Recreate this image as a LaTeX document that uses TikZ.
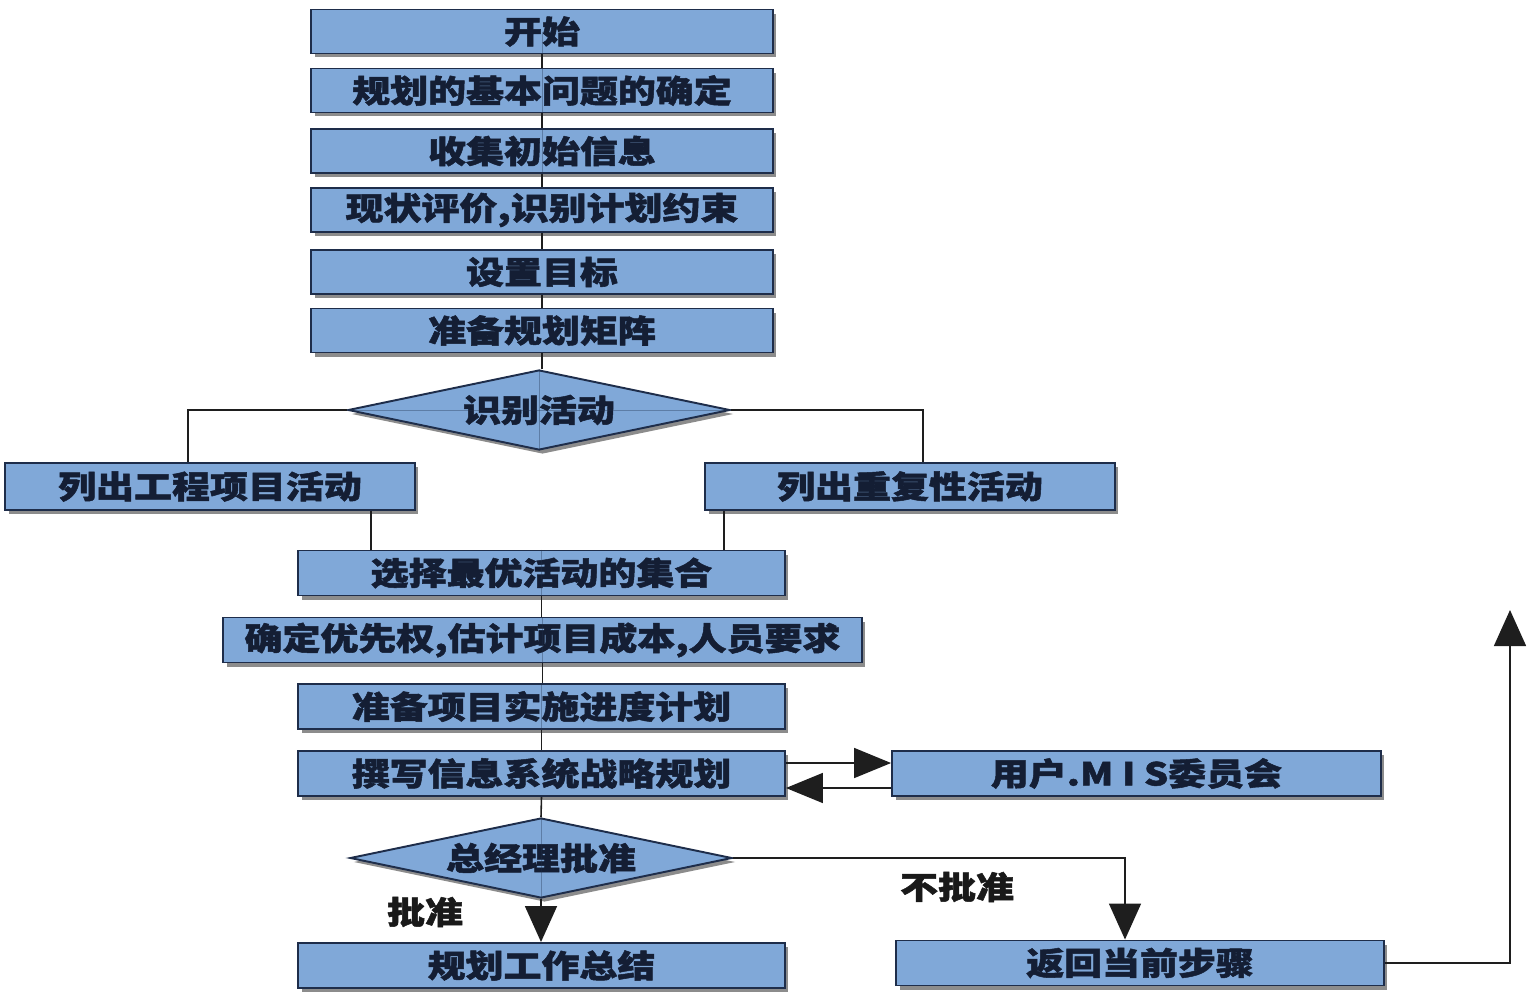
\documentclass[tikz,border=0pt]{standalone}
\usepackage{fontspec}
\newfontfamily\cjk{Noto Sans CJK SC}[FakeStretch=1.2, BoldFeatures={FakeBold=1.6}]
\usetikzlibrary{shapes.geometric,arrows.meta,shadows}
\definecolor{boxfill}{RGB}{128,168,216}
\definecolor{boxline}{RGB}{30,45,74}
\definecolor{txt}{RGB}{20,30,52}
\definecolor{conn}{RGB}{30,30,30}
\begin{document}
\begin{tikzpicture}[x=0.02cm,y=-0.02cm,
  every node/.style={font=\cjk\bfseries\fontsize{18}{20}\selectfont, text=txt},
  boxstyle/.style={rectangle, draw=boxline, line width=1.1pt, fill=boxfill, inner sep=0pt,
     drop shadow={shadow xshift=0.07cm, shadow yshift=-0.08cm, opacity=0.45, fill=black}},
  dia/.style={diamond, draw=boxline, line width=1.1pt, fill=boxfill, inner sep=0pt, aspect=4.8,
     minimum width=7.64cm, minimum height=1.6cm,
     drop shadow={shadow xshift=0.07cm, shadow yshift=-0.08cm, opacity=0.45, fill=black}},
  wA/.style={minimum width=9.24cm, minimum height=0.88cm},
  wB/.style={minimum width=8.2cm, minimum height=0.94cm},
  wC/.style={minimum width=9.74cm, minimum height=0.9cm},
  wD/.style={minimum width=12.78cm, minimum height=0.9cm},
  lbl/.style={text=black!90},
  cline/.style={draw=conn, line width=0.9pt},
  faint/.style={draw=boxline, line width=0.5pt, opacity=0.35},
  bigtip/.style={-{Triangle[width=0.64cm,length=0.72cm]}}
]
\useasboundingbox (0,0) rectangle (1539,994);
% nodes
\node[boxstyle,wA] (b1) at (542,31.5) {开始};
\node[boxstyle,wA] (b2) at (542,90.5) {规划的基本问题的确定};
\node[boxstyle,wA] (b3) at (542,151) {收集初始信息};
\node[boxstyle,wA] (b4) at (542,210) {现状评价,识别计划约束};
\node[boxstyle,wA] (b5) at (542,272) {设置目标};
\node[boxstyle,wA] (b6) at (542,330.5) {准备规划矩阵};
\node[dia] (d1) at (539,410) {识别活动};
\node[boxstyle,wB] (l1) at (210,486.5) {列出工程项目活动};
\node[boxstyle,wB] (r1) at (910,486.5) {列出重复性活动};
\node[boxstyle,wC] (s1) at (541.5,573) {选择最优活动的集合};
\node[boxstyle,wD] (s2) at (542.5,640) {确定优先权,估计项目成本,人员要求};
\node[boxstyle,wC] (s3) at (541.5,706.5) {准备项目实施进度计划};
\node[boxstyle,wC] (s4) at (541.5,773.5) {撰写信息系统战略规划};
\node[boxstyle,minimum width=9.78cm,minimum height=0.9cm] (u1) at (1136.5,773.5) {用户.M I S委员会};
\node[dia] (d2) at (541,858) {总经理批准};
\node[boxstyle,wC] (e1) at (541.5,965.5) {规划工作总结};
\node[boxstyle,minimum width=9.76cm,minimum height=0.9cm] (e2) at (1140,963) {返回当前步骤};
\node[lbl] (t1) at (425,912) {批准};
\node[lbl] (t2) at (957,887) {不批准};
\coordinate (ret) at (1510,610);
% faint centre lines seen through the shapes
\draw[faint] (b1.center) -- (b1.south);
\draw[faint] (b2.north) -- (b2.south);
\draw[faint] (b3.north) -- (b3.south);
\draw[faint] (d1.north) -- (d1.south);
\draw[faint] (d1.west) -- (d1.east);
\draw[faint] (s1.north) -- (s1.south);
\draw[faint] (s2.north) -- (s2.south);
\draw[faint] (s3.north) -- (s3.south);
\draw[faint] (d2.north) -- (d2.south);
% connectors
\draw[cline] (b1.south) -- (b2.north);
\draw[cline] (b2.south) -- (b3.north);
\draw[cline] (b3.south) -- (b4.north);
\draw[cline] (b4.south) -- (b5.north);
\draw[cline] (b5.south) -- (b6.north);
\draw[cline] (b6.south) -- (b6.south |- d1.north);
\draw[cline] (d1.west) -| ([xshift=-0.44cm]l1.north);
\draw[cline] (d1.east) -| ([xshift=0.26cm]r1.north);
\draw[cline] ([xshift=3.22cm]l1.south) -- ([xshift=3.22cm]l1.south |- s1.north);
\draw[cline] ([xshift=-3.72cm]r1.south) -- ([xshift=-3.72cm]r1.south |- s1.north);
\draw[cline] (s1.south) -- (s1.south |- s2.north);
\draw[cline] (s2.south) -- (s2.south |- s3.north);
\draw[cline] (s3.south) -- (s4.north);
\draw[cline] (s4.south) -- (d2.north);
\draw[cline,-{Triangle[width=0.6cm,length=0.74cm]}] ([yshift=0.21cm]s4.east) -- ([yshift=0.21cm]s4.east -| u1.west);
\draw[cline,-{Triangle[width=0.6cm,length=0.74cm]}] ([yshift=-0.29cm]u1.west) -- ([yshift=-0.29cm]u1.west -| s4.east);
\draw[cline,bigtip] (d2.south) -- (d2.south |- e1.north);
\draw[cline,bigtip] (d2.east) -| ([xshift=-0.3cm]e2.north);
\draw[cline,bigtip] (e2.east) -| (ret);
\end{tikzpicture}
\end{document}
